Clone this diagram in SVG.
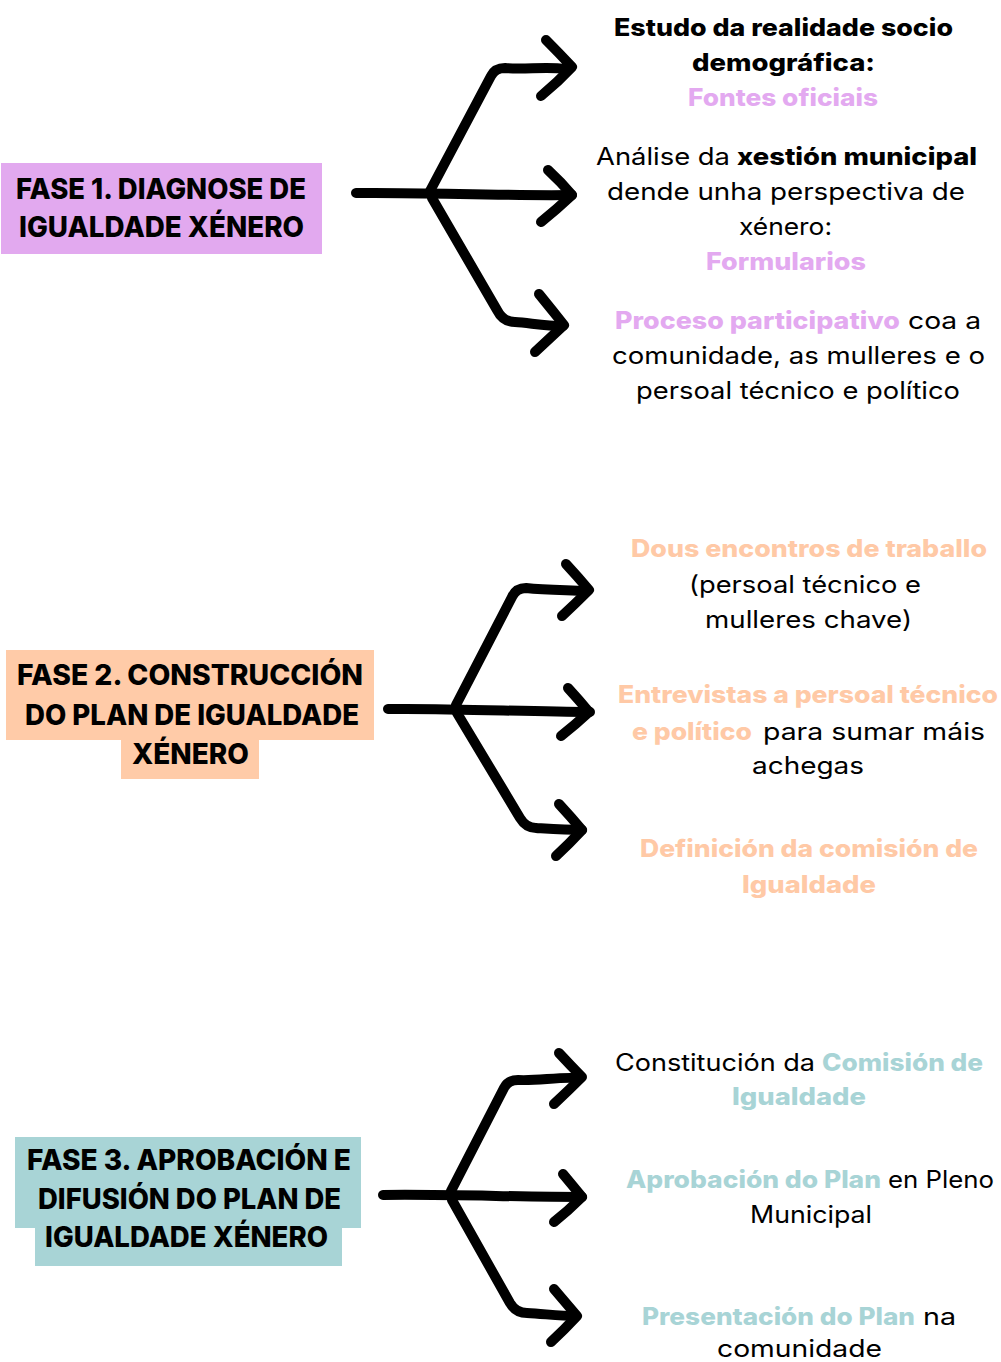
<svg xmlns="http://www.w3.org/2000/svg" width="1001" height="1362" viewBox="0 0 1001 1362">
<style>
.h{font-family:Inter,"Noto Sans","Liberation Sans",sans-serif;font-weight:800;font-size:28.5px;fill:#000}
.r{font-family:Inter,"Noto Sans","Liberation Sans",sans-serif;font-weight:400;font-size:24px;fill:#000}
.b{font-family:Inter,"Noto Sans","Liberation Sans",sans-serif;font-weight:800;font-size:24px;fill:#000}
.pk{fill:#E3A9F0}
.pc{fill:#FFC9A6}
.tl{fill:#A8D4D6}
.arr{fill:none;stroke:#000;stroke-width:10;stroke-linecap:round;stroke-linejoin:round}
</style>
<rect width="1001" height="1362" fill="#fff"/>
<g id="fase1">
<rect x="1" y="163" width="321" height="91" fill="#E2A9EF"/>
<text class="h" x="16" y="199" textLength="290" lengthAdjust="spacingAndGlyphs">FASE 1. DIAGNOSE DE</text>
<text class="h" x="19" y="237" textLength="285" lengthAdjust="spacingAndGlyphs">IGUALDADE XÉNERO</text>
</g>
<g id="fase2">
<rect x="6" y="650" width="368" height="90" fill="#FFCBA8"/>
<rect x="121" y="739" width="138" height="40" fill="#FFCBA8"/>
<text class="h" x="17" y="685" textLength="346" lengthAdjust="spacingAndGlyphs">FASE 2. CONSTRUCCIÓN</text>
<text class="h" x="25" y="725" textLength="334" lengthAdjust="spacingAndGlyphs">DO PLAN DE IGUALDADE</text>
<text class="h" x="132" y="764" textLength="117" lengthAdjust="spacingAndGlyphs">XÉNERO</text>
</g>
<g id="fase3">
<rect x="15" y="1137" width="346" height="91" fill="#A8D4D6"/>
<rect x="35" y="1227" width="307" height="39" fill="#A8D4D6"/>
<text class="h" x="27" y="1170" textLength="324" lengthAdjust="spacingAndGlyphs">FASE 3. APROBACIÓN E</text>
<text class="h" x="38" y="1209" textLength="303" lengthAdjust="spacingAndGlyphs">DIFUSIÓN DO PLAN DE</text>
<text class="h" x="45" y="1247" textLength="283" lengthAdjust="spacingAndGlyphs">IGUALDADE XÉNERO</text>
</g>
<g id="connectors">
<path class="arr" d="M356,193 C420,192 500,196 572,195"/>
<path class="arr" d="M430,191 L491,76 Q495,68 505,68 C525,70 545,66 566,69"/>
<path class="arr" d="M546,40 Q560,54 572,67 Q558,82 541,96"/>
<path class="arr" d="M548,170 Q561,182 572,195 Q556,210 541,222"/>
<path class="arr" d="M432,198 L497,310 Q503,322 515,322 C530,323 545,326 563,326"/>
<path class="arr" d="M539,294 Q552,310 564,325 Q549,339 535,352"/>

<path class="arr" d="M388,709 C450,708 530,712 590,712"/>
<path class="arr" d="M456,705 L512,597 Q516,588 526,588 C545,590 565,590 586,591"/>
<path class="arr" d="M566,564 Q578,577 589,590 Q575,604 562,616"/>
<path class="arr" d="M568,688 Q579,700 589,712 Q575,725 561,736"/>
<path class="arr" d="M457,713 L520,818 Q526,828 536,828 C552,829 566,830 582,830"/>
<path class="arr" d="M559,804 Q571,817 582,830 Q569,844 556,856"/>

<path class="arr" d="M383,1195 C440,1194 520,1197 582,1197"/>
<path class="arr" d="M451,1191 L504,1088 Q508,1080 518,1080 C538,1081 556,1077 576,1078"/>
<path class="arr" d="M559,1053 Q571,1066 582,1077 Q568,1091 554,1104"/>
<path class="arr" d="M563,1174 Q573,1186 582,1197 Q568,1211 554,1222"/>
<path class="arr" d="M452,1200 L510,1303 Q516,1313 527,1313 C545,1314 560,1316 576,1316"/>
<path class="arr" d="M554,1289 Q566,1303 577,1316 Q564,1330 551,1342"/>
</g>
<g id="item1a">
<text class="b" x="614" y="36" textLength="339" lengthAdjust="spacingAndGlyphs">Estudo da realidade socio</text>
<text class="b" x="692" y="71" textLength="183" lengthAdjust="spacingAndGlyphs">demográfica:</text>
<text class="b pk" x="688" y="106" textLength="190" lengthAdjust="spacingAndGlyphs">Fontes oficiais</text>
</g>
<g id="item1b">
<text class="r" x="596" y="165" textLength="134" lengthAdjust="spacingAndGlyphs">Análise da</text>
<text class="b" x="737" y="165" textLength="240" lengthAdjust="spacingAndGlyphs">xestión municipal</text>
<text class="r" x="607" y="200" textLength="358" lengthAdjust="spacingAndGlyphs">dende unha perspectiva de</text>
<text class="r" x="739" y="235" textLength="93" lengthAdjust="spacingAndGlyphs">xénero:</text>
<text class="b pk" x="706" y="270" textLength="160" lengthAdjust="spacingAndGlyphs">Formularios</text>
</g>
<g id="item1c">
<text class="b pk" x="615" y="329" textLength="285" lengthAdjust="spacingAndGlyphs">Proceso participativo</text>
<text class="r" x="908" y="329" textLength="73" lengthAdjust="spacingAndGlyphs">coa a</text>
<text class="r" x="612" y="364" textLength="373" lengthAdjust="spacingAndGlyphs">comunidade, as mulleres e o</text>
<text class="r" x="636" y="399" textLength="324" lengthAdjust="spacingAndGlyphs">persoal técnico e político</text>
</g>
<g id="item2a">
<text class="b pc" x="631" y="557" textLength="356" lengthAdjust="spacingAndGlyphs">Dous encontros de traballo</text>
<text class="r" x="689" y="593" textLength="232" lengthAdjust="spacingAndGlyphs">(persoal técnico e</text>
<text class="r" x="705" y="628" textLength="207" lengthAdjust="spacingAndGlyphs">mulleres chave)</text>
</g>
<g id="item2b">
<text class="b pc" x="618" y="703" textLength="380" lengthAdjust="spacingAndGlyphs">Entrevistas a persoal técnico</text>
<text class="b pc" x="632" y="740" textLength="120" lengthAdjust="spacingAndGlyphs">e político</text>
<text class="r" x="763" y="740" textLength="222" lengthAdjust="spacingAndGlyphs">para sumar máis</text>
<text class="r" x="752" y="774" textLength="112" lengthAdjust="spacingAndGlyphs">achegas</text>
</g>
<g id="item2c">
<text class="b pc" x="640" y="857" textLength="338" lengthAdjust="spacingAndGlyphs">Definición da comisión de</text>
<text class="b pc" x="742" y="893" textLength="134" lengthAdjust="spacingAndGlyphs">Igualdade</text>
</g>
<g id="item3a">
<text class="r" x="615" y="1071" textLength="200" lengthAdjust="spacingAndGlyphs">Constitución da</text>
<text class="b tl" x="822" y="1071" textLength="161" lengthAdjust="spacingAndGlyphs">Comisión de</text>
<text class="b tl" x="732" y="1105" textLength="134" lengthAdjust="spacingAndGlyphs">Igualdade</text>
</g>
<g id="item3b">
<text class="b tl" x="626" y="1188" textLength="255" lengthAdjust="spacingAndGlyphs">Aprobación do Plan</text>
<text class="r" x="888" y="1188" textLength="106" lengthAdjust="spacingAndGlyphs">en Pleno</text>
<text class="r" x="750" y="1223" textLength="122" lengthAdjust="spacingAndGlyphs">Municipal</text>
</g>
<g id="item3c">
<text class="b tl" x="642" y="1325" textLength="273" lengthAdjust="spacingAndGlyphs">Presentación do Plan</text>
<text class="r" x="923" y="1325" textLength="33" lengthAdjust="spacingAndGlyphs">na</text>
<text class="r" x="717" y="1357" textLength="165" lengthAdjust="spacingAndGlyphs">comunidade</text>
</g>
</svg>
